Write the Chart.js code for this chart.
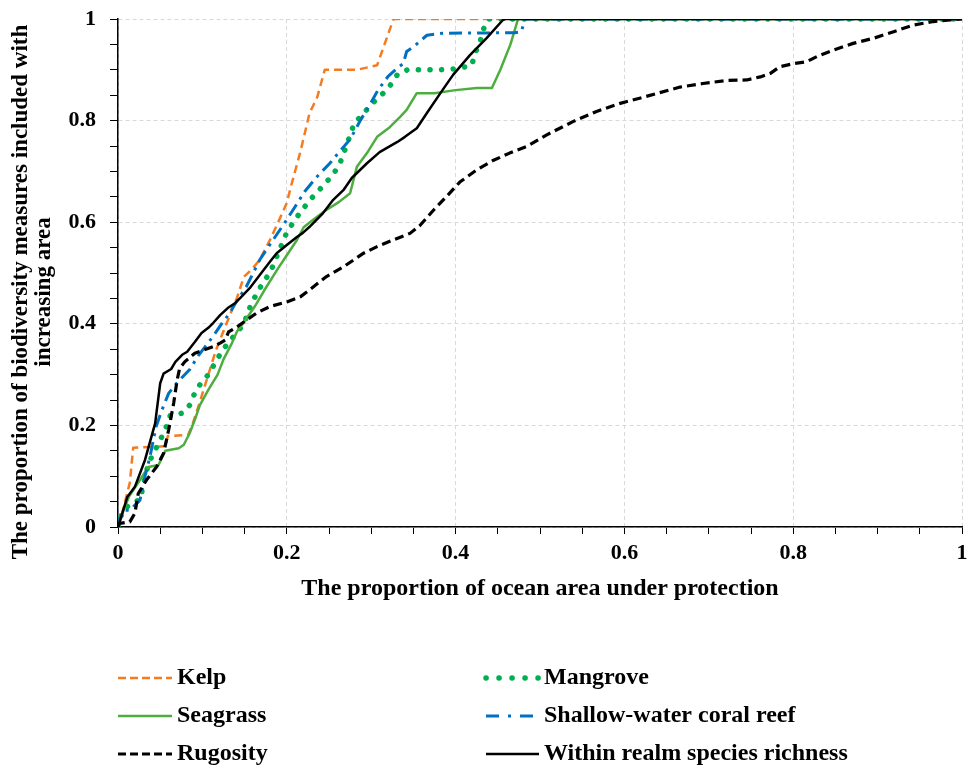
<!DOCTYPE html>
<html>
<head>
<meta charset="utf-8">
<script src="https://cdn.jsdelivr.net/npm/chart.js@4"></script>
<style>
  html, body { margin: 0; padding: 0; background: #fff; }
  #c { display: block; }
</style>
</head>
<body>
<canvas id="c" width="968" height="765"></canvas>
<script>
// ---------- DATA ----------
const seriesNames = ['Kelp', 'Mangrove', 'Seagrass', 'Shallow-water coral reef', 'Rugosity', 'Within realm species richness'];
const xTickLabels = ['0', '0.2', '0.4', '0.6', '0.8', '1'];
const yTickLabels = ['0', '0.2', '0.4', '0.6', '0.8', '1'];
const xAxisTitle = 'The proportion of ocean area under protection';
const yAxisTitle = ['The proportion of biodiversity measures included with', 'increasing area'];

const kelpX = [0, 0.005, 0.014, 0.018, 0.056, 0.059, 0.083, 0.088, 0.095, 0.105, 0.116, 0.127, 0.135, 0.141, 0.149, 0.159, 0.168, 0.180, 0.192, 0.200, 0.205, 0.216, 0.227, 0.236, 0.245, 0.283, 0.307, 0.326, 0.327, 1];
const kelpY = [0, 0.028, 0.087, 0.156, 0.159, 0.179, 0.181, 0.201, 0.236, 0.289, 0.348, 0.394, 0.427, 0.451, 0.492, 0.508, 0.526, 0.565, 0.608, 0.638, 0.671, 0.738, 0.815, 0.846, 0.900, 0.900, 0.909, 0.998, 1, 1];

const mangroveX = [0, 0.005, 0.015, 0.026, 0.036, 0.052, 0.058, 0.062, 0.076, 0.085, 0.090, 0.097, 0.107, 0.122, 0.131, 0.142, 0.150, 0.158, 0.172, 0.180, 0.190, 0.200, 0.211, 0.227, 0.242, 0.255, 0.263, 0.272, 0.280, 0.290, 0.300, 0.312, 0.322, 0.332, 0.343, 0.380, 0.400, 0.419, 0.423, 0.429, 0.433, 0.439, 1];
const mangroveY = [0, 0.030, 0.047, 0.053, 0.125, 0.178, 0.200, 0.220, 0.224, 0.240, 0.260, 0.280, 0.300, 0.343, 0.364, 0.384, 0.404, 0.440, 0.482, 0.500, 0.540, 0.580, 0.608, 0.643, 0.670, 0.694, 0.716, 0.757, 0.795, 0.812, 0.832, 0.850, 0.868, 0.893, 0.900, 0.900, 0.902, 0.908, 0.932, 0.955, 0.980, 1, 1];

const seagrassX = [0, 0.006, 0.013, 0.025, 0.036, 0.048, 0.056, 0.072, 0.078, 0.085, 0.091, 0.097, 0.107, 0.118, 0.125, 0.135, 0.141, 0.150, 0.162, 0.173, 0.190, 0.200, 0.212, 0.220, 0.232, 0.245, 0.262, 0.275, 0.283, 0.295, 0.307, 0.322, 0.334, 0.342, 0.354, 0.375, 0.400, 0.425, 0.443, 0.453, 0.465, 0.474, 1];
const seagrassY = [0, 0.030, 0.060, 0.090, 0.118, 0.122, 0.150, 0.155, 0.162, 0.185, 0.211, 0.240, 0.270, 0.300, 0.330, 0.362, 0.385, 0.405, 0.434, 0.465, 0.510, 0.535, 0.565, 0.590, 0.606, 0.622, 0.640, 0.657, 0.709, 0.736, 0.768, 0.787, 0.807, 0.821, 0.854, 0.854, 0.860, 0.864, 0.864, 0.900, 0.950, 1, 1];

const coralX = [0, 0.001, 0.009, 0.014, 0.026, 0.032, 0.038, 0.045, 0.052, 0.060, 0.071, 0.085, 0.095, 0.113, 0.124, 0.132, 0.139, 0.152, 0.168, 0.182, 0.196, 0.210, 0.221, 0.236, 0.251, 0.263, 0.275, 0.287, 0.299, 0.308, 0.320, 0.332, 0.338, 0.342, 0.350, 0.366, 0.385, 0.470, 0.478, 0.482, 1];
const coralY = [0, 0.014, 0.033, 0.033, 0.053, 0.100, 0.139, 0.197, 0.230, 0.263, 0.286, 0.310, 0.337, 0.376, 0.403, 0.420, 0.440, 0.473, 0.526, 0.561, 0.595, 0.631, 0.660, 0.690, 0.716, 0.740, 0.763, 0.800, 0.833, 0.860, 0.887, 0.905, 0.912, 0.936, 0.945, 0.968, 0.972, 0.973, 0.975, 1, 1];

const rugosityX = [0, 0.002, 0.014, 0.020, 0.024, 0.034, 0.046, 0.054, 0.060, 0.066, 0.070, 0.073, 0.079, 0.091, 0.101, 0.113, 0.121, 0.127, 0.131, 0.141, 0.152, 0.164, 0.180, 0.200, 0.216, 0.227, 0.247, 0.267, 0.291, 0.307, 0.326, 0.346, 0.358, 0.374, 0.389, 0.405, 0.425, 0.445, 0.464, 0.484, 0.508, 0.539, 0.567, 0.595, 0.618, 0.642, 0.666, 0.693, 0.721, 0.745, 0.761, 0.773, 0.784, 0.800, 0.816, 0.828, 0.848, 0.871, 0.895, 0.919, 0.942, 0.966, 0.986, 1];
const rugosityY = [0, 0.007, 0.010, 0.027, 0.066, 0.093, 0.119, 0.145, 0.191, 0.244, 0.289, 0.312, 0.325, 0.342, 0.348, 0.355, 0.362, 0.368, 0.384, 0.394, 0.407, 0.421, 0.434, 0.443, 0.453, 0.467, 0.493, 0.512, 0.539, 0.552, 0.565, 0.578, 0.594, 0.624, 0.650, 0.679, 0.703, 0.722, 0.736, 0.749, 0.772, 0.798, 0.818, 0.834, 0.844, 0.855, 0.866, 0.873, 0.879, 0.880, 0.886, 0.893, 0.906, 0.912, 0.916, 0.926, 0.939, 0.952, 0.962, 0.975, 0.988, 0.995, 0.998, 1];

const realmX = [0, 0.011, 0.020, 0.032, 0.044, 0.050, 0.054, 0.063, 0.068, 0.076, 0.082, 0.091, 0.099, 0.107, 0.113, 0.121, 0.130, 0.139, 0.145, 0.156, 0.168, 0.180, 0.188, 0.200, 0.212, 0.219, 0.227, 0.236, 0.243, 0.255, 0.267, 0.277, 0.295, 0.310, 0.331, 0.340, 0.354, 0.366, 0.382, 0.397, 0.417, 0.437, 0.456, 0.459, 1];
const realmY = [0, 0.059, 0.079, 0.132, 0.204, 0.283, 0.302, 0.311, 0.325, 0.339, 0.345, 0.364, 0.382, 0.392, 0.402, 0.417, 0.431, 0.441, 0.451, 0.470, 0.496, 0.522, 0.539, 0.555, 0.571, 0.579, 0.591, 0.606, 0.618, 0.644, 0.663, 0.687, 0.716, 0.738, 0.758, 0.768, 0.785, 0.815, 0.854, 0.890, 0.929, 0.963, 0.998, 1, 1];

// ---------- STYLES ----------
const FONT = '"Liberation Serif", "Times New Roman", serif';
const styles = [
  { color: '#F47B20', width: 2.5, dash: [8, 5], legendDash: [8, 4], cap: 'butt', order: 6 },             // Kelp
  { color: '#00B050', width: 5.5, dash: [0.1, 11.5], legendDash: [0.1, 12.9], cap: 'round', order: 5 },   // Mangrove
  { color: '#4DAE3F', width: 2.5, dash: [], legendDash: [], cap: 'butt', order: 4 },                     // Seagrass
  { color: '#0070C0', width: 3, dash: [13, 6, 3, 6], legendDash: [13, 9, 3, 9], cap: 'butt', order: 3 }, // Coral
  { color: '#000000', width: 3.2, dash: [9, 5], legendDash: [8, 4], cap: 'butt', order: 2 },             // Rugosity
  { color: '#000000', width: 2.5, dash: [], legendDash: [], cap: 'butt', order: 1 }                      // Realm
];
const seriesX = [kelpX, mangroveX, seagrassX, coralX, rugosityX, realmX];
const seriesY = [kelpY, mangroveY, seagrassY, coralY, rugosityY, realmY];

function pts(xs, ys) { return xs.map((x, i) => ({ x: x, y: ys[i] })); }

const datasets = seriesNames.map((name, i) => ({
  label: name,
  data: pts(seriesX[i], seriesY[i]),
  showLine: true,
  borderColor: styles[i].color,
  backgroundColor: styles[i].color,
  borderWidth: styles[i].width,
  borderDash: styles[i].dash,
  borderCapStyle: styles[i].cap,
  borderJoinStyle: 'round',
  pointRadius: 0,
  pointHoverRadius: 0,
  tension: 0,
  fill: false,
  order: styles[i].order
}));

function isMajor(v) { return Math.abs(v * 5 - Math.round(v * 5)) < 1e-6; }
function majorLabel(v, labels) { return isMajor(v) ? labels[Math.round(v * 5)] : ''; }

const titlesAndLegend = {
  id: 'titlesAndLegend',
  beforeDraw(chart) {
    const ctx = chart.ctx;
    ctx.save();
    ctx.fillStyle = '#fff';
    ctx.fillRect(0, 0, chart.width, chart.height);
    ctx.restore();
  },
  afterDraw(chart) {
    const ctx = chart.ctx;
    const ca = chart.chartArea;
    ctx.save();
    ctx.fillStyle = '#000';
    ctx.font = 'bold 24px ' + FONT;
    ctx.textBaseline = 'middle';
    ctx.textAlign = 'center';
    // x title
    ctx.fillText(xAxisTitle, (ca.left + ca.right) / 2, 589);
    // y title (two lines, rotated)
    ctx.font = 'bold 23px ' + FONT;
    ctx.save();
    ctx.translate(21, 292);
    ctx.rotate(-Math.PI / 2);
    ctx.fillText(yAxisTitle[0], 0, 0);
    ctx.restore();
    ctx.save();
    ctx.translate(44, 292);
    ctx.rotate(-Math.PI / 2);
    ctx.fillText(yAxisTitle[1], 0, 0);
    ctx.restore();

    // legend
    ctx.font = 'bold 24px ' + FONT;
    const cols = [{ x0: 118, x1: 172, tx: 177 }, { x0: 486, x1: 539, tx: 544 }];
    const rows = [678, 716, 754];
    ctx.textAlign = 'left';
    seriesNames.forEach((name, i) => {
      const c = cols[i % 2];
      const y = rows[Math.floor(i / 2)];
      const s = styles[i];
      ctx.save();
      ctx.strokeStyle = s.color;
      ctx.lineWidth = s.width;
      ctx.setLineDash(s.legendDash);
      ctx.lineCap = s.cap;
      ctx.beginPath();
      ctx.moveTo(c.x0, y);
      ctx.lineTo(c.x1, y);
      ctx.stroke();
      ctx.restore();
      ctx.fillStyle = '#000';
      ctx.fillText(name, c.tx, y);
    });
    ctx.restore();
  }
};

new Chart(document.getElementById('c'), {
  type: 'scatter',
  data: { datasets: datasets },
  options: {
    responsive: false,
    animation: false,
    events: [],
    layout: { padding: { left: 0, right: 6, top: 19, bottom: 0 } },
    plugins: { legend: { display: false }, tooltip: { enabled: false } },
    scales: {
      x: {
        type: 'linear',
        min: 0, max: 1,
        afterFit(scale) { scale.height = 765 - 527; scale.paddingLeft = 0; scale.paddingRight = 0; },
        ticks: {
          stepSize: 0.05,
          autoSkip: false,
          maxRotation: 0,
          padding: 6,
          color: '#000',
          font: { family: FONT, size: 22, weight: 'bold' },
          callback: (v) => majorLabel(v, xTickLabels)
        },
        grid: {
          color: (c) => (c.tick && isMajor(c.tick.value) ? '#d9d9d9' : 'rgba(0,0,0,0)'),
          lineWidth: 1,
          tickColor: '#000',
          tickLength: 7,
          tickWidth: 1
        },
        border: { display: true, color: '#000', width: 1.5, dash: [4, 3] }
      },
      y: {
        type: 'linear',
        min: 0, max: 1,
        afterFit(scale) { scale.width = 118; scale.paddingTop = 0; scale.paddingBottom = 0; },
        ticks: {
          stepSize: 0.05,
          autoSkip: false,
          padding: 14,
          color: '#000',
          font: { family: FONT, size: 22, weight: 'bold' },
          callback: (v) => majorLabel(v, yTickLabels)
        },
        grid: {
          color: (c) => (c.tick && isMajor(c.tick.value) ? '#d9d9d9' : 'rgba(0,0,0,0)'),
          lineWidth: 1,
          tickColor: '#000',
          tickLength: 8,
          tickWidth: 1
        },
        border: { display: true, color: '#000', width: 1.5, dash: [4, 3] }
      }
    }
  },
  plugins: [titlesAndLegend]
});
</script>
</body>
</html>
